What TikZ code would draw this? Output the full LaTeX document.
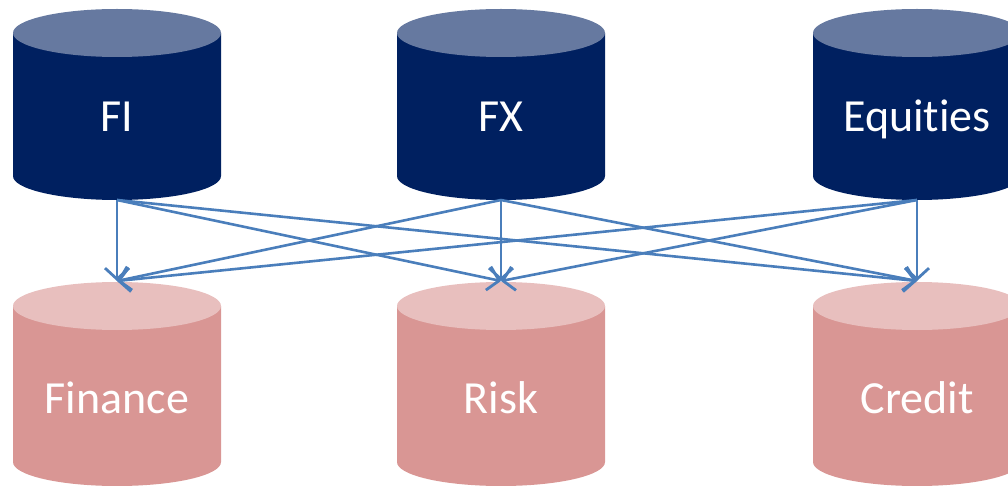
\documentclass[tikz,border=0pt]{standalone}
\usepackage{fontspec}
\setmainfont[RawFeature={-liga;-dlig;-clig}]{Carlito}
\usetikzlibrary{arrows.meta}
\definecolor{navy}{RGB}{0,32,96}
\definecolor{navytop}{RGB}{102,121,160}
\definecolor{pinkbody}{RGB}{217,150,148}
\definecolor{pinktop}{RGB}{232,191,190}
\definecolor{conn}{RGB}{74,126,187}
\tikzset{
  x=1pt,y=1pt,
  label text/.style={text=white,font=\fontsize{46}{50}\selectfont,anchor=base,inner sep=0pt},
  link/.style={draw=conn,line width=2.6pt,-{Straight Barb[length=11pt,width=24pt,line width=2.8pt]}},
  pics/db/.style n args={3}{code={
    % #1 body colour, #2 top colour, #3 height
    \fill[#1] (-104,0) -- (-104,-#3) arc[start angle=180,end angle=360,x radius=104,y radius=24] -- (104,0) -- cycle;
    \fill[#2] (0,0) ellipse[x radius=104,y radius=24];
  }}
}
\begin{document}
\begin{tikzpicture}
\useasboundingbox (0,0) rectangle (1008,-486);
% top sources
\pic at (117,-33) {db={navy}{navytop}{143}};
\pic at (501,-33) {db={navy}{navytop}{143}};
\pic at (917,-33) {db={navy}{navytop}{143}};
% bottom targets
\pic at (117,-306) {db={pinkbody}{pinktop}{156}};
\pic at (501,-306) {db={pinkbody}{pinktop}{156}};
\pic at (917,-306) {db={pinkbody}{pinktop}{156}};
% labels
\node[label text] (fi) at (117,-132) {FI};
\node[label text] (fx) at (501,-132) {FX};
\node[label text] (eq) at (917,-132) {Equities};
\node[label text] (fin) at (117,-413) {Finance};
\node[label text] (risk) at (501,-413) {Risk};
\node[label text] (cred) at (917,-413) {Credit};
% connector ends
\coordinate (fi-out) at (117,-200);
\coordinate (fx-out) at (501,-200);
\coordinate (eq-out) at (917,-200);
\coordinate (fin-in) at (117,-281);
\coordinate (risk-in) at (501,-281);
\coordinate (cred-in) at (917,-281);
% connectors
\foreach \s in {fi-out,fx-out,eq-out}{
  \foreach \t in {fin-in,risk-in,cred-in}{
    \draw[link] (\s) -- (\t);
  }
}
\end{tikzpicture}
\end{document}
